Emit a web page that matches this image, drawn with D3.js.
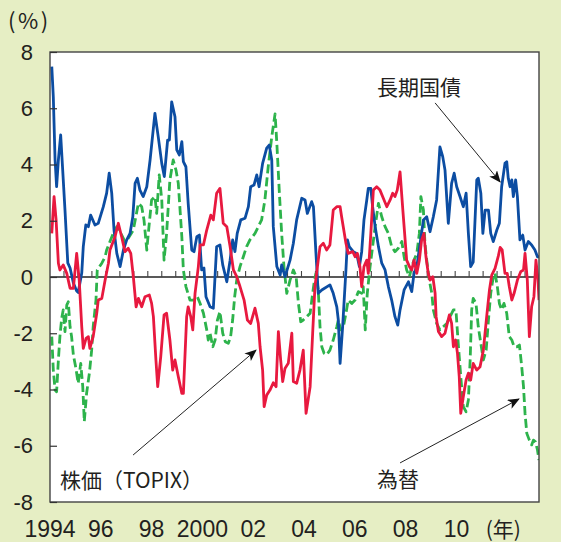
<!DOCTYPE html>
<html>
<head>
<meta charset="utf-8">
<script src="https://cdn.jsdelivr.net/npm/d3@7"></script>
<style>
  body { margin: 0; background: #e6eec4; }
  svg { display: block; }
</style>
</head>
<body>
<svg id="chart" width="561" height="542"></svg>
<script>
// 長期国債 (blue, solid): [year, %]
const jgb = [
  [1994.07,7.48],[1994.13,6.41],[1994.20,4.16],[1994.26,3.21],[1994.33,4.16],[1994.42,5.05],
  [1994.50,3.80],[1994.59,2.38],[1994.70,0.50],[1994.79,0.32],[1994.92,-0.21],[1995.05,-0.50],
  [1995.11,-0.55],[1995.25,0.14],[1995.31,1.08],[1995.41,1.85],[1995.51,1.79],[1995.60,2.20],
  [1995.77,1.85],[1995.90,1.91],[1996.10,2.50],[1996.23,2.98],[1996.33,3.69],[1996.43,2.98],
  [1996.52,1.67],[1996.63,0.84],[1996.76,0.37],[1996.89,0.96],[1997.02,1.32],[1997.15,1.55],
  [1997.26,2.14],[1997.35,3.33],[1997.44,3.51],[1997.54,3.09],[1997.67,2.86],[1997.81,3.21],
  [1997.94,4.16],[1998.13,5.82],[1998.26,4.99],[1998.40,4.04],[1998.50,3.57],[1998.63,4.87],
  [1998.70,4.87],[1998.79,6.23],[1998.92,5.70],[1998.99,4.52],[1999.09,4.34],[1999.19,4.81],
  [1999.25,4.10],[1999.35,3.92],[1999.44,2.62],[1999.58,0.96],[1999.67,0.90],[1999.78,1.43],
  [1999.88,1.49],[1999.97,0.25],[2000.06,0.32],[2000.14,-0.70],[2000.30,-1.06],[2000.43,-1.11],
  [2000.56,1.08],[2000.69,1.14],[2000.80,0.43],[2000.96,-0.17],[2001.09,0.60],[2001.19,1.32],
  [2001.28,0.90],[2001.37,1.55],[2001.51,2.03],[2001.68,2.09],[2001.81,2.50],[2001.90,3.21],
  [2002.03,3.27],[2002.14,3.63],[2002.23,3.21],[2002.37,4.04],[2002.53,4.58],[2002.63,4.69],
  [2002.73,4.16],[2002.79,1.79],[2002.93,0.37],[2003.06,0.07],[2003.12,0.43],[2003.25,0.01],
  [2003.45,0.60],[2003.58,1.20],[2003.71,2.03],[2003.91,2.80],[2004.04,2.74],[2004.13,2.26],
  [2004.30,2.68],[2004.37,2.50],[2004.47,0.84],[2004.56,-0.58],[2004.70,-0.46],[2005.02,-0.28],
  [2005.15,-0.58],[2005.29,-1.06],[2005.35,-1.53],[2005.42,-3.07],[2005.52,-1.77],[2005.65,0.25],
  [2005.71,1.32],[2005.78,1.08],[2005.94,0.90],[2006.07,0.84],[2006.18,0.37],[2006.27,0.90],
  [2006.36,2.03],[2006.47,2.74],[2006.53,3.15],[2006.63,3.15],[2006.70,2.50],[2006.80,1.79],
  [2006.93,1.08],[2007.06,0.49],[2007.19,0.25],[2007.32,-0.34],[2007.45,-0.82],[2007.58,-1.41],
  [2007.69,-1.71],[2007.78,-1.17],[2007.94,-0.46],[2008.11,-0.17],[2008.24,-0.52],[2008.33,0.13],
  [2008.44,0.37],[2008.70,2.03],[2008.83,2.14],[2008.96,1.61],[2009.09,2.14],[2009.22,2.74],
  [2009.35,4.63],[2009.46,4.28],[2009.55,3.80],[2009.68,1.91],[2009.81,3.33],[2009.91,3.69],
  [2010.01,3.21],[2010.14,2.86],[2010.27,2.50],[2010.38,2.98],[2010.47,1.55],[2010.56,0.37],
  [2010.66,0.53],[2010.80,3.45],[2010.86,3.51],[2010.96,2.98],[2011.04,1.55],[2011.13,2.38],
  [2011.26,2.38],[2011.35,1.55],[2011.45,1.26],[2011.59,1.67],[2011.69,1.91],[2011.78,3.21],
  [2011.91,4.04],[2011.98,4.10],[2012.04,3.51],[2012.11,3.21],[2012.18,3.45],[2012.24,2.86],
  [2012.33,3.45],[2012.40,2.86],[2012.50,1.32],[2012.61,1.49],[2012.70,0.96],[2012.83,1.26],
  [2012.96,1.14],[2013.09,0.96],[2013.19,0.72],[2013.25,0.72]
];

// 株価（TOPIX） (red, solid): [year, %]
const topix = [
  [1994.07,1.55],[1994.16,2.86],[1994.24,2.03],[1994.33,0.49],[1994.39,0.25],[1994.52,0.43],
  [1994.66,0.13],[1994.79,-0.40],[1994.92,-0.40],[1995.05,0.84],[1995.15,-0.11],[1995.25,-1.77],
  [1995.31,-2.54],[1995.42,-2.18],[1995.51,-2.12],[1995.57,-2.54],[1995.70,-2.12],[1995.84,-1.29],
  [1995.90,-0.82],[1996.04,-0.76],[1996.17,-0.11],[1996.30,0.49],[1996.36,0.96],[1996.56,1.43],
  [1996.69,1.91],[1996.82,1.43],[1996.95,0.90],[1997.08,1.02],[1997.18,0.84],[1997.28,0.01],
  [1997.39,-1.06],[1997.48,-0.76],[1997.61,-1.06],[1997.74,-0.70],[1997.91,-0.64],[1998.00,-0.94],
  [1998.07,-1.41],[1998.17,-2.95],[1998.24,-3.90],[1998.36,-2.83],[1998.49,-1.35],[1998.59,-1.29],
  [1998.72,-2.24],[1998.83,-3.31],[1998.92,-2.95],[1999.05,-3.54],[1999.19,-4.14],[1999.25,-4.14],
  [1999.38,-1.41],[1999.44,-1.06],[1999.54,-1.41],[1999.62,-1.88],[1999.71,-0.58],[1999.84,0.37],
  [1999.91,1.14],[2000.04,1.14],[2000.17,1.67],[2000.33,2.20],[2000.43,2.03],[2000.56,2.98],
  [2000.69,3.15],[2000.82,1.91],[2000.96,1.79],[2001.09,1.08],[2001.22,0.25],[2001.35,0.01],
  [2001.48,-0.34],[2001.64,-0.82],[2001.77,-1.53],[2001.90,-1.65],[2002.07,-1.11],[2002.20,-1.65],
  [2002.27,-2.48],[2002.37,-3.31],[2002.43,-4.61],[2002.53,-4.20],[2002.66,-4.02],[2002.79,-3.76],
  [2002.90,-3.90],[2002.99,-1.94],[2003.08,-2.95],[2003.16,-3.72],[2003.25,-3.25],[2003.38,-3.07],
  [2003.52,-2.00],[2003.58,-3.72],[2003.71,-3.78],[2003.84,-3.31],[2003.97,-2.60],[2004.08,-4.85],
  [2004.24,-3.90],[2004.34,-2.00],[2004.43,-0.34],[2004.56,0.60],[2004.63,1.08],[2004.76,1.20],
  [2004.89,0.96],[2005.02,1.14],[2005.15,2.38],[2005.29,2.50],[2005.42,2.50],[2005.48,2.14],
  [2005.65,1.20],[2005.74,0.84],[2005.92,0.90],[2006.01,0.72],[2006.10,0.84],[2006.20,0.37],
  [2006.27,-0.34],[2006.36,0.37],[2006.47,0.60],[2006.53,0.13],[2006.63,1.55],[2006.73,3.09],
  [2006.86,3.21],[2006.99,3.09],[2007.15,2.74],[2007.26,2.50],[2007.39,2.74],[2007.49,2.98],
  [2007.58,2.86],[2007.67,3.09],[2007.78,3.74],[2007.89,2.38],[2007.98,1.32],[2008.04,0.60],
  [2008.15,0.37],[2008.24,0.25],[2008.33,0.60],[2008.44,0.13],[2008.54,0.60],[2008.63,1.32],
  [2008.72,1.55],[2008.80,0.72],[2008.89,0.13],[2008.96,-0.11],[2009.07,0.01],[2009.16,-0.58],
  [2009.20,-1.41],[2009.29,-1.94],[2009.42,-2.12],[2009.55,-2.00],[2009.64,-1.65],[2009.72,-1.35],
  [2009.81,-1.65],[2009.88,-2.48],[2009.97,-2.24],[2010.04,-2.71],[2010.11,-3.54],[2010.17,-4.85],
  [2010.27,-4.26],[2010.38,-3.66],[2010.47,-3.42],[2010.56,-3.66],[2010.66,-3.07],[2010.80,-3.31],
  [2010.93,-3.19],[2011.06,-2.60],[2011.19,-1.41],[2011.30,-0.46],[2011.39,0.07],[2011.52,0.31],
  [2011.65,0.75],[2011.72,1.05],[2011.80,0.96],[2011.91,0.13],[2012.00,0.13],[2012.08,-0.34],
  [2012.18,-0.82],[2012.27,-0.58],[2012.40,-0.11],[2012.53,0.19],[2012.64,0.25],[2012.70,0.84],
  [2012.79,-0.11],[2012.87,-2.12],[2012.96,-1.06],[2013.05,-0.70],[2013.13,0.60],[2013.21,-0.11],
  [2013.25,-0.82]
];

// 為替 (green, dashed): [year, %]
const fx = [
  [1994.07,-2.12],[1994.13,-3.31],[1994.20,-4.02],[1994.26,-4.08],[1994.33,-2.95],[1994.39,-2.12],
  [1994.46,-1.47],[1994.52,-1.17],[1994.59,-1.94],[1994.66,-1.00],[1994.72,-0.88],[1994.79,-1.77],
  [1994.85,-2.12],[1994.92,-2.77],[1995.02,-3.25],[1995.11,-3.78],[1995.21,-3.07],[1995.29,-3.90],
  [1995.35,-5.14],[1995.44,-4.14],[1995.55,-3.42],[1995.64,-2.60],[1995.70,-1.77],[1995.81,-0.82],
  [1995.86,0.25],[1996.04,0.49],[1996.17,0.72],[1996.23,0.96],[1996.36,1.26],[1996.49,1.55],
  [1996.63,1.79],[1996.76,1.61],[1996.95,1.26],[1997.08,1.38],[1997.28,1.67],[1997.48,2.62],
  [1997.61,2.50],[1997.70,2.03],[1997.81,0.96],[1997.87,1.55],[1998.00,2.74],[1998.13,2.86],
  [1998.20,2.26],[1998.30,3.63],[1998.40,2.74],[1998.49,0.60],[1998.59,1.55],[1998.72,3.45],
  [1998.85,4.16],[1998.96,3.80],[1999.05,3.33],[1999.19,1.43],[1999.25,0.25],[1999.35,-0.34],
  [1999.51,-0.82],[1999.67,-0.82],[1999.80,-0.70],[1999.91,-0.94],[2000.04,-1.29],[2000.17,-1.88],
  [2000.23,-2.24],[2000.30,-2.00],[2000.41,-2.48],[2000.50,-2.24],[2000.59,-1.53],[2000.69,-1.23],
  [2000.80,-2.00],[2000.90,-2.30],[2001.02,-2.36],[2001.11,-2.12],[2001.19,-1.53],[2001.27,-0.70],
  [2001.35,-0.11],[2001.48,0.37],[2001.61,0.72],[2001.74,1.08],[2001.87,1.32],[2002.07,1.55],
  [2002.20,1.79],[2002.33,2.03],[2002.46,2.74],[2002.59,3.92],[2002.73,4.99],[2002.86,5.80],
  [2002.93,4.75],[2003.03,2.98],[2003.12,1.55],[2003.21,0.37],[2003.32,-0.58],[2003.45,-0.11],
  [2003.58,0.25],[2003.69,0.01],[2003.78,-0.94],[2003.87,-1.59],[2003.97,-1.53],[2004.11,-1.41],
  [2004.24,-1.29],[2004.34,-0.58],[2004.41,-0.11],[2004.47,0.13],[2004.56,-0.46],[2004.63,-1.77],
  [2004.70,-2.48],[2004.79,-2.71],[2004.89,-2.77],[2005.02,-2.60],[2005.15,-2.24],[2005.29,-1.77],
  [2005.35,-1.53],[2005.44,-1.88],[2005.55,-1.77],[2005.65,-1.29],[2005.74,-0.82],[2005.88,-0.94],
  [2006.01,-0.82],[2006.14,-0.52],[2006.27,-0.58],[2006.33,-0.34],[2006.41,-1.88],[2006.49,-0.58],
  [2006.60,0.37],[2006.80,1.79],[2006.93,2.62],[2007.06,2.14],[2007.19,1.79],[2007.32,1.55],
  [2007.45,1.08],[2007.58,0.90],[2007.71,1.02],[2007.85,1.26],[2007.94,0.72],[2008.04,0.25],
  [2008.15,0.01],[2008.24,0.37],[2008.33,0.60],[2008.44,0.84],[2008.54,1.55],[2008.60,2.86],
  [2008.70,2.38],[2008.76,1.20],[2008.83,0.60],[2008.93,-0.11],[2009.03,-0.58],[2009.09,-1.17],
  [2009.22,-1.65],[2009.35,-1.88],[2009.48,-1.77],[2009.62,-1.65],[2009.75,-1.41],[2009.88,-1.17],
  [2009.98,-1.17],[2010.07,-2.36],[2010.17,-3.54],[2010.27,-4.61],[2010.38,-4.79],[2010.47,-4.37],
  [2010.54,-2.95],[2010.60,-1.17],[2010.66,-0.76],[2010.77,-0.94],[2010.86,-1.77],[2010.96,-2.36],
  [2011.06,-2.95],[2011.17,-2.60],[2011.26,-1.53],[2011.35,-0.58],[2011.45,0.01],[2011.52,0.13],
  [2011.61,-0.34],[2011.69,-0.94],[2011.78,-1.17],[2011.87,-0.94],[2011.98,-1.29],[2012.08,-2.12],
  [2012.18,-2.24],[2012.27,-2.48],[2012.38,-2.48],[2012.48,-2.42],[2012.57,-3.19],[2012.64,-3.90],
  [2012.70,-4.85],[2012.77,-5.56],[2012.87,-5.80],[2012.96,-5.97],[2013.03,-5.80],[2013.11,-5.86],
  [2013.19,-6.15],[2013.25,-6.51]
];

// Axis ticks and labels
const yTickValues = [-8, -6, -4, -2, 0, 2, 4, 6, 8];
const xLabelYears = [1994, 1996, 1998, 2000, 2002, 2004, 2006, 2008, 2010];
const xLabelTexts = ["1994", "96", "98", "2000", "02", "04", "06", "08", "10"];

// Callout labels with arrows (text anchor point and arrow start/end in data units)
const callouts = [
  { text: "長期国債",       at: [2006.87, 6.47],  from: [2009.16, 6.19],  to: [2011.72, 3.38] },
  { text: "株価（TOPIX）", at: [1994.39, -7.50], from: [1997.27, -6.33], to: [2002.11, -2.60] },
  { text: "為替",           at: [2006.87, -7.47], from: [2007.78, -6.61], to: [2012.46, -4.34] }
];

const svg = d3.select("#chart");
const margin = { left: 50, top: 52, right: 22, bottom: 40 };
const W = +svg.attr("width"), H = +svg.attr("height");
const innerRight = W - margin.right, innerBottom = H - margin.bottom;

const x = d3.scaleLinear().domain([1994, 2013.25]).range([margin.left, innerRight]);
const y = d3.scaleLinear().domain([-8, 8]).range([innerBottom, margin.top]);

const numFont = "'Liberation Sans', Arial, Helvetica, sans-serif";
const jpFont = "'Noto Sans CJK JP', 'Noto Sans', sans-serif";

// plot background
svg.append("rect")
  .attr("x", margin.left).attr("y", margin.top)
  .attr("width", innerRight - margin.left).attr("height", innerBottom - margin.top)
  .attr("fill", "#ffffff");

svg.append("defs").append("clipPath").attr("id", "plotClip")
  .append("rect")
  .attr("x", margin.left).attr("y", margin.top)
  .attr("width", innerRight - margin.left).attr("height", innerBottom - margin.top);

// zero line with small ticks
const zeroG = svg.append("g");
zeroG.append("line")
  .attr("x1", margin.left).attr("x2", innerRight)
  .attr("y1", y(0)).attr("y2", y(0))
  .attr("stroke", "#222").attr("stroke-width", 1.4);
const nDiv = 35;
const minorTicks = d3.range(1, nDiv).map(i => x.domain()[0] + i * (x.domain()[1] - x.domain()[0]) / nDiv);
zeroG.selectAll("line.mt").data(minorTicks).join("line")
  .attr("class", "mt")
  .attr("x1", d => x(d)).attr("x2", d => x(d))
  .attr("y1", y(0)).attr("y2", y(0) - 6)
  .attr("stroke", "#444").attr("stroke-width", 1.1);

// series lines
const line = d3.line().x(d => x(d[0])).y(d => y(d[1]));
const linesG = svg.append("g").attr("clip-path", "url(#plotClip)");
linesG.append("path").datum(fx)
  .attr("d", line).attr("fill", "none")
  .attr("stroke", "#2db34b").attr("stroke-width", 2.8)
  .attr("stroke-dasharray", "9,4").attr("stroke-linejoin", "round");
linesG.append("path").datum(jgb)
  .attr("d", line).attr("fill", "none")
  .attr("stroke", "#0c4da2").attr("stroke-width", 2.8).attr("stroke-linejoin", "round");
linesG.append("path").datum(topix)
  .attr("d", line).attr("fill", "none")
  .attr("stroke", "#e8193f").attr("stroke-width", 2.8).attr("stroke-linejoin", "round");

// frame
svg.append("rect")
  .attr("x", margin.left).attr("y", margin.top)
  .attr("width", innerRight - margin.left).attr("height", innerBottom - margin.top)
  .attr("fill", "none").attr("stroke", "#444").attr("stroke-width", 1.4);

// y axis (ticks pointing inward, plain hyphen for negatives)
const yAxis = d3.axisLeft(y).tickValues(yTickValues)
  .tickFormat(d => String(d))
  .tickSizeInner(-7).tickSizeOuter(0).tickPadding(17);
const yG = svg.append("g").attr("transform", `translate(${margin.left},0)`).call(yAxis);
yG.select(".domain").remove();
yG.selectAll(".tick line").attr("stroke", "#333").attr("stroke-width", 1.2);
yG.selectAll(".tick text")
  .attr("font-family", numFont).attr("font-size", 22).attr("fill", "#231f20");

// x labels
const xLabG = svg.append("g");
xLabG.selectAll("text").data(xLabelYears).join("text")
  .attr("x", d => x(d))
  .attr("y", innerBottom + 35)
  .attr("text-anchor", "middle")
  .attr("font-family", numFont).attr("font-size", 23).attr("fill", "#231f20")
  .text((d, i) => xLabelTexts[i]);

// unit labels
svg.append("text")
  .attr("x", 8).attr("y", 29)
  .attr("font-family", jpFont).attr("font-size", 22).attr("letter-spacing", 2.5)
  .attr("fill", "#231f20")
  .text("(%)");
svg.append("text")
  .attr("x", x(2012) - 4).attr("y", innerBottom + 35)
  .attr("text-anchor", "middle")
  .attr("font-family", jpFont).attr("font-size", 21).attr("fill", "#231f20")
  .text("(年)");

// callout arrows and labels
const defs = svg.select("defs");
defs.append("marker")
  .attr("id", "arrowHead").attr("viewBox", "0 0 12 10")
  .attr("refX", 11).attr("refY", 5)
  .attr("markerWidth", 12).attr("markerHeight", 10)
  .attr("markerUnits", "userSpaceOnUse").attr("orient", "auto")
  .append("path").attr("d", "M0,0 L12,5 L0,10 L3,5 Z").attr("fill", "#111");

const cG = svg.append("g");
cG.selectAll("line").data(callouts).join("line")
  .attr("x1", d => x(d.from[0])).attr("y1", d => y(d.from[1]))
  .attr("x2", d => x(d.to[0])).attr("y2", d => y(d.to[1]))
  .attr("stroke", "#222").attr("stroke-width", 1)
  .attr("marker-end", "url(#arrowHead)");
cG.selectAll("text").data(callouts).join("text")
  .attr("x", d => x(d.at[0])).attr("y", d => y(d.at[1]))
  .attr("font-family", jpFont).attr("font-size", 21).attr("fill", "#231f20")
  .text(d => d.text);
</script>
</body>
</html>
